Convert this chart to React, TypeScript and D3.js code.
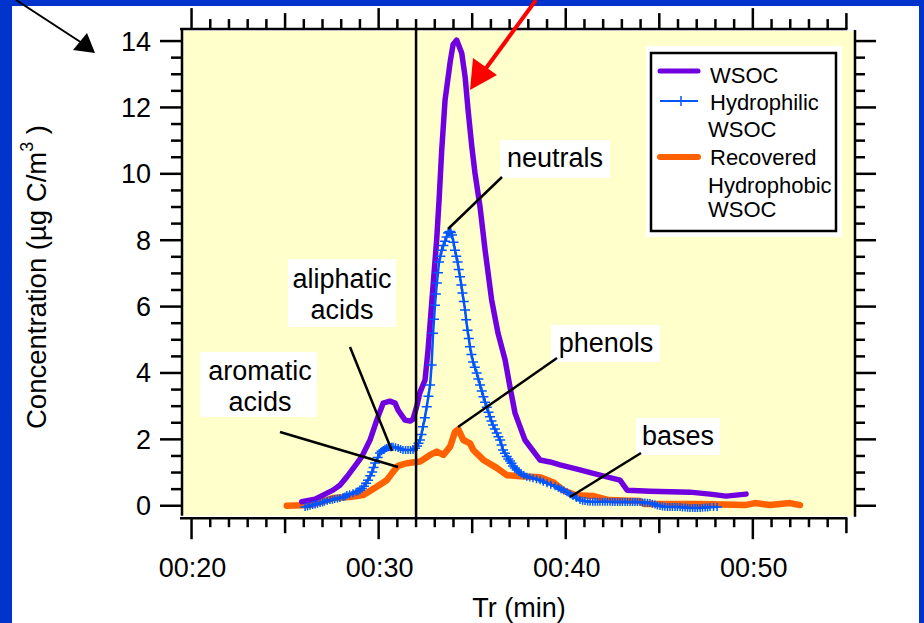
import React from "react";
import * as d3 from "d3";

// ---------- data (time in minutes, concentration in µg C/m3) ----------
const wsocTime = [25.89, 26.6, 27.56, 27.93, 28.3, 28.74, 29.1, 29.54, 29.9, 30.24, 30.6, 30.88, 31.04, 31.41, 31.68, 31.84, 32.05, 32.2, 32.48, 32.64, 32.85, 33.1, 33.23, 33.37, 33.55, 33.82, 33.98, 34.17, 34.44, 34.62, 34.78, 34.98, 35.15, 35.42, 35.69, 36.04, 36.38, 36.76, 37.02, 37.29, 37.82, 38.62, 39.16, 39.69, 40.76, 41.83, 42.9, 43.28, 44.5, 46.64, 47.71, 48.57, 49.64];
const wsocConc = [0.12, 0.2, 0.47, 0.62, 0.87, 1.2, 1.48, 1.98, 2.58, 3.09, 3.15, 3.09, 2.88, 2.58, 2.55, 2.61, 3.03, 3.4, 3.79, 4.69, 6.2, 8.0, 9.21, 10.7, 12.22, 13.36, 13.9, 14.03, 13.64, 12.93, 11.92, 10.82, 10.02, 9.0, 7.7, 6.2, 5.2, 4.39, 3.58, 2.79, 1.98, 1.38, 1.32, 1.23, 1.08, 0.92, 0.77, 0.47, 0.44, 0.41, 0.35, 0.29, 0.35];

const hydrophilicTime = [26.07, 26.2, 26.33, 26.47, 26.6, 26.73, 26.87, 27.0, 27.1, 27.25, 27.4, 27.53, 27.65, 27.8, 27.93, 28.1, 28.2, 28.3, 28.45, 28.63, 28.8, 28.9, 29.0, 29.1, 29.22, 29.33, 29.43, 29.55, 29.65, 29.73, 29.81, 29.95, 30.07, 30.16, 30.25, 30.34, 30.43, 30.52, 30.6, 30.68, 30.77, 30.9, 31.04, 31.17, 31.3, 31.44, 31.57, 31.7, 31.84, 31.95, 32.05, 32.13, 32.21, 32.29, 32.37, 32.47, 32.57, 32.66, 32.75, 32.83, 32.91, 32.96, 33.01, 33.06, 33.11, 33.17, 33.23, 33.3, 33.37, 33.46, 33.55, 33.63, 33.71, 33.77, 33.82, 33.87, 33.92, 34.0, 34.08, 34.15, 34.22, 34.28, 34.35, 34.42, 34.48, 34.55, 34.62, 34.68, 34.75, 34.82, 34.88, 34.96, 35.05, 35.14, 35.24, 35.33, 35.42, 35.51, 35.6, 35.69, 35.78, 35.87, 35.95, 36.03, 36.11, 36.21, 36.31, 36.4, 36.49, 36.57, 36.65, 36.75, 36.85, 36.93, 37.02, 37.1, 37.18, 37.28, 37.38, 37.5, 37.61, 37.76, 37.92, 38.08, 38.25, 38.44, 38.63, 38.8, 39.0, 39.2, 39.43, 39.6, 39.75, 39.9, 40.07, 40.23, 40.39, 40.57, 40.76, 40.9, 41.03, 41.17, 41.3, 41.44, 41.57, 41.7, 41.83, 41.97, 42.1, 42.23, 42.37, 42.5, 42.63, 42.77, 42.9, 43.03, 43.17, 43.3, 43.44, 43.57, 43.7, 43.83, 43.97, 44.1, 44.23, 44.37, 44.5, 44.63, 44.77, 44.9, 45.04, 45.17, 45.3, 45.44, 45.57, 45.7, 45.84, 45.97, 46.11, 46.24, 46.38, 46.51, 46.64, 46.78, 46.91, 47.04, 47.18, 47.31, 47.45, 47.58, 47.71, 47.9, 48.09];
const hydrophilicConc = [-0.04, -0.02, 0.0, 0.02, 0.04, 0.06, 0.08, 0.1, 0.12, 0.15, 0.17, 0.18, 0.2, 0.22, 0.23, 0.26, 0.28, 0.32, 0.35, 0.38, 0.42, 0.44, 0.47, 0.52, 0.59, 0.68, 0.77, 0.9, 1.02, 1.15, 1.29, 1.45, 1.59, 1.64, 1.68, 1.72, 1.74, 1.76, 1.77, 1.78, 1.78, 1.76, 1.74, 1.71, 1.68, 1.68, 1.68, 1.68, 1.68, 1.73, 1.8, 1.88, 1.98, 2.15, 2.38, 2.65, 2.98, 3.3, 3.64, 4.24, 5.2, 5.62, 6.04, 6.38, 6.71, 7.02, 7.34, 7.52, 7.7, 7.84, 7.97, 8.1, 8.22, 8.25, 8.26, 8.23, 8.16, 7.94, 7.7, 7.52, 7.34, 7.12, 6.9, 6.65, 6.41, 6.15, 5.9, 5.6, 5.29, 5.04, 4.79, 4.56, 4.33, 4.17, 4.0, 3.82, 3.64, 3.46, 3.28, 3.12, 2.97, 2.82, 2.68, 2.55, 2.43, 2.31, 2.19, 2.08, 1.98, 1.83, 1.68, 1.58, 1.48, 1.41, 1.35, 1.28, 1.2, 1.14, 1.08, 1.02, 0.97, 0.92, 0.87, 0.85, 0.83, 0.8, 0.77, 0.72, 0.68, 0.63, 0.59, 0.54, 0.5, 0.46, 0.41, 0.35, 0.29, 0.23, 0.17, 0.15, 0.14, 0.13, 0.12, 0.12, 0.12, 0.12, 0.12, 0.12, 0.12, 0.12, 0.12, 0.11, 0.11, 0.11, 0.11, 0.11, 0.11, 0.11, 0.11, 0.11, 0.11, 0.11, 0.11, 0.1, 0.1, 0.09, 0.08, 0.06, 0.04, 0.01, -0.01, -0.02, -0.03, -0.04, -0.04, -0.04, -0.04, -0.04, -0.04, -0.05, -0.05, -0.06, -0.07, -0.07, -0.07, -0.07, -0.07, -0.06, -0.05, -0.05, -0.04, -0.04, -0.04];

const hydrophobicTime = [25.09, 26.33, 27.56, 28.47, 29.17, 29.9, 30.43, 30.77, 31.04, 31.5, 32.21, 32.75, 33.11, 33.46, 33.82, 34.08, 34.26, 34.53, 34.88, 35.06, 35.42, 35.6, 36.31, 36.85, 37.56, 38.63, 39.32, 39.86, 40.5, 41.5, 42.3, 43.97, 44.24, 47.18, 49.58, 50.12, 50.92, 51.99, 52.52];
const hydrophobicConc = [0.0, 0.02, 0.23, 0.26, 0.32, 0.57, 0.77, 1.02, 1.2, 1.28, 1.33, 1.53, 1.63, 1.53, 1.78, 2.22, 2.3, 1.98, 1.88, 1.68, 1.48, 1.38, 1.14, 0.92, 0.89, 0.86, 0.71, 0.47, 0.32, 0.29, 0.17, 0.14, 0.05, 0.05, 0.02, 0.08, 0.02, 0.08, 0.02];

const xMajorTicks = [20, 30, 40, 50];
const xTickLabels = ["00:20", "00:30", "00:40", "00:50"];
const yMajorTicks = [0, 2, 4, 6, 8, 10, 12, 14];
const markerTime = 32;

const legendItems = ["WSOC", "Hydrophilic", "WSOC", "Recovered", "Hydrophobic", "WSOC"];

const annotations = [
  { lines: ["aliphatic", "acids"] },
  { lines: ["aromatic", "acids"] },
  { lines: ["neutrals"] },
  { lines: ["phenols"] },
  { lines: ["bases"] },
];

// ---------- styling / layout ----------
const W = 924;
const H = 623;
const FONT = "'Liberation Sans', Arial, sans-serif";
const PURPLE = "#7000E0";
const BLUE = "#0055FF";
const ORANGE = "#FF6000";
const BG_BLUE = "#0033CC";
const PLOT_BG = "#FFFFCC";

const x = d3.scaleLinear().domain([19.49, 55.46]).range([182, 855]);
const y = d3.scaleLinear().domain([-0.3, 14.3]).range([515.7, 31.1]);

const toPts = (t: number[], v: number[]) => t.map((tt, i) => [tt, v[i]] as [number, number]);

export default function App() {
  const line = d3
    .line<[number, number]>()
    .x((d) => x(d[0]))
    .y((d) => y(d[1]));

  const wsoc = toPts(wsocTime, wsocConc);
  const hphil = toPts(hydrophilicTime, hydrophilicConc);
  const hphob = toPts(hydrophobicTime, hydrophobicConc);

  const plotL = x(19.49);
  const plotR = x(55.46);
  const plotT = y(14.3);
  const plotB = y(-0.3);
  const topAxisY = plotT - 2;
  const botAxisY = plotB + 2.5;
  const xAxisEnd = x(55);

  const xMinor = d3.range(20, 56, 1);
  const yMinor = d3.range(0, 14.01, 0.5);

  const annBoxes = [
    { x: 288, y: 259, w: 108, h: 68, cx: 342, base: [288, 319] },
    { x: 200, y: 352, w: 117, h: 65, cx: 260, base: [380, 411] },
    { x: 500, y: 140, w: 110, h: 38, cx: 555, base: [167] },
    { x: 551, y: 325, w: 109, h: 37, cx: 606, base: [352] },
    { x: 636, y: 418, w: 84, h: 37, cx: 678, base: [445] },
  ];
  const leaders = [
    [350, 347, 392, 451],
    [280, 432, 398, 467],
    [502, 177, 448, 229],
    [557, 358, 458, 427],
    [641, 453, 570, 497],
  ];

  const plus = (cx: number, cy: number, k: string) => (
    <path key={k} d={`M${cx - 5},${cy}H${cx + 5}M${cx},${cy - 4}V${cy + 4}`} stroke={BLUE} strokeWidth={1.5} />
  );

  const legendBaselines = [83, 110, 137, 165, 193, 217];

  return (
    <svg
      width={W}
      height={H}
      style={{ position: "absolute", left: 0, top: 0, display: "block" }}
      fontFamily={FONT}
    >
      <rect x={0} y={0} width={W} height={H} fill={BG_BLUE} />
      <rect x={12} y={6} width={907} height={H - 6} fill="#FFFFFF" />

      <rect x={plotL} y={plotT} width={plotR - plotL} height={plotB - plotT} fill={PLOT_BG} />

      {annBoxes.map((b, i) => (
        <g key={"ann" + i}>
          <rect x={b.x} y={b.y} width={b.w} height={b.h} fill="#FFFFFF" />
          {annotations[i].lines.map((t, j) => (
            <text key={j} x={b.cx} y={b.base[j]} fontSize={27} textAnchor="middle" fill="#000">
              {t}
            </text>
          ))}
        </g>
      ))}

      <path d={line(hphob) || ""} fill="none" stroke={ORANGE} strokeWidth={6.5} strokeLinejoin="round" strokeLinecap="round" />
      <path d={line(wsoc) || ""} fill="none" stroke={PURPLE} strokeWidth={5.5} strokeLinejoin="round" strokeLinecap="round" />
      <path d={line(hphil) || ""} fill="none" stroke={BLUE} strokeWidth={2.5} strokeLinejoin="round" />
      {hphil.map((d, i) => plus(x(d[0]), y(d[1]), "m" + i))}

      {leaders.map((l, i) => (
        <line key={"ld" + i} x1={l[0]} y1={l[1]} x2={l[2]} y2={l[3]} stroke="#000" strokeWidth={2.5} />
      ))}

      <line x1={x(markerTime)} x2={x(markerTime)} y1={topAxisY} y2={botAxisY} stroke="#000" strokeWidth={2.5} />

      <line x1={plotL} x2={plotL} y1={plotT - 1} y2={plotB} stroke="#000" strokeWidth={2.5} />
      <line x1={plotR} x2={plotR} y1={plotT - 1} y2={plotB + 1} stroke="#000" strokeWidth={2.5} />
      <line x1={plotL - 2} x2={xAxisEnd + 1} y1={topAxisY} y2={topAxisY} stroke="#000" strokeWidth={2.5} />
      <line x1={plotL - 2} x2={xAxisEnd + 1} y1={botAxisY} y2={botAxisY} stroke="#000" strokeWidth={2.5} />

      {xMinor.map((t) => {
        const major = t % 10 === 0;
        const medium = !major && t % 5 === 0;
        const lb = major ? 21 : medium ? 15 : 9;
        const lt = major ? 21 : medium ? 16 : 10;
        return (
          <g key={"xt" + t}>
            <line x1={x(t)} x2={x(t)} y1={botAxisY} y2={botAxisY + lb} stroke="#000" strokeWidth={2.5} />
            <line x1={x(t)} x2={x(t)} y1={topAxisY} y2={topAxisY - lt} stroke="#000" strokeWidth={2.5} />
          </g>
        );
      })}
      {xMajorTicks.map((t, i) => (
        <text key={"xl" + t} x={x(t) + 1} y={577} fontSize={27} textAnchor="middle" fill="#000">
          {xTickLabels[i]}
        </text>
      ))}

      {yMinor.map((v) => {
        const major = Math.abs(v % 2) < 1e-6;
        return (
          <g key={"yt" + v}>
            <line x1={plotL} x2={plotL - (major ? 22 : 11)} y1={y(v)} y2={y(v)} stroke="#000" strokeWidth={2.5} />
            <line x1={plotR} x2={plotR + (major ? 21 : 10)} y1={y(v)} y2={y(v)} stroke="#000" strokeWidth={2.5} />
          </g>
        );
      })}
      {yMajorTicks.map((v) => (
        <text key={"yl" + v} x={151} y={y(v) + 9.5} fontSize={27} textAnchor="end" fill="#000">
          {v}
        </text>
      ))}

      <text x={519} y={617} fontSize={27} textAnchor="middle" fill="#000">
        Tr (min)
      </text>
      <text transform="translate(46,277) rotate(-90)" fontSize={27.5} textAnchor="middle" fill="#000">
        Concentration (µg C/m
        <tspan fontSize={18} dy={-13}>3</tspan>
        <tspan dy={13}> )</tspan>
      </text>

      <rect x={646} y={46} width={196} height={191} fill="#FFFFFF" />
      <rect x={651} y={53} width={185} height={178} fill="none" stroke="#000" strokeWidth={2.5} />
      <line x1={660} x2={698} y1={71} y2={71} stroke={PURPLE} strokeWidth={5} strokeLinecap="round" />
      <line x1={660} x2={698} y1={101} y2={101} stroke={BLUE} strokeWidth={2} />
      <line x1={681} x2={681} y1={96} y2={106} stroke={BLUE} strokeWidth={1.5} />
      <line x1={660} x2={698} y1={157} y2={157} stroke={ORANGE} strokeWidth={6} strokeLinecap="round" />
      {legendItems.map((t, i) => (
        <text key={"lg" + i} x={i === 0 || i === 1 || i === 3 ? 710 : 708} y={legendBaselines[i]} fontSize={22} fill="#000">
          {t}
        </text>
      ))}

      <line x1={16} y1={0} x2={82} y2={43} stroke="#000" strokeWidth={2} />
      <path d="M95,53 L73,50 L87,33 Z" fill="#000" />
      <line x1={536} y1={0} x2={484} y2={71} stroke="#FF0000" strokeWidth={4} />
      <path d="M470,90 L473,58 L497,75 Z" fill="#FF0000" />
    </svg>
  );
}
